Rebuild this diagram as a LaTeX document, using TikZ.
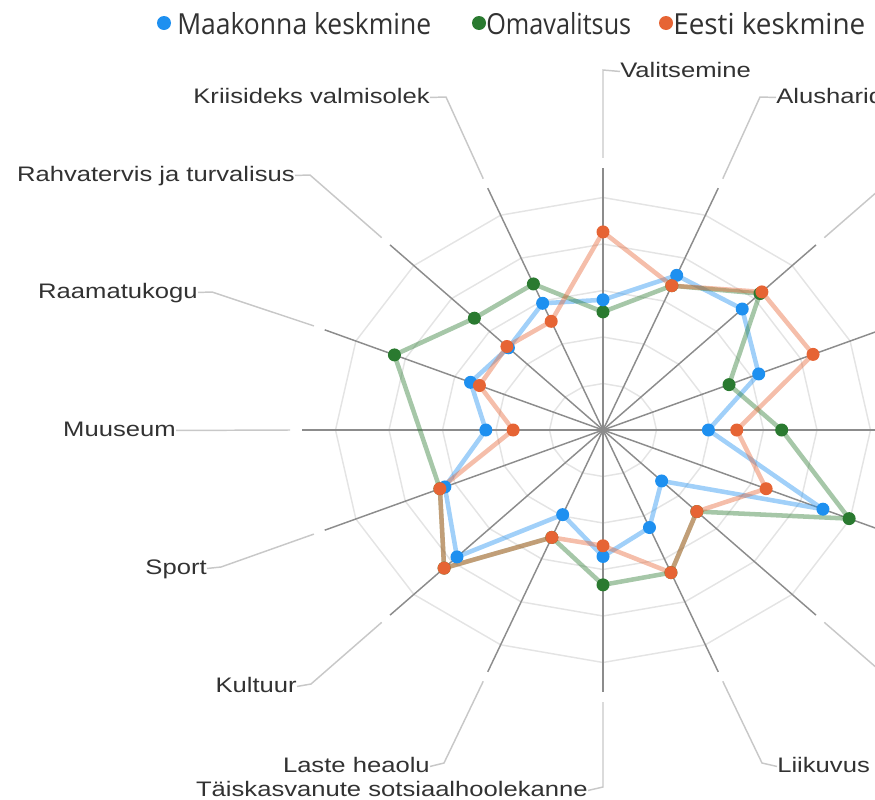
\documentclass[tikz,border=0pt]{standalone}
\usepackage{fontspec}
\usepackage{graphicx}
\setmainfont{Liberation Sans}
\newfontfamily\legendfont{Open Sans}
\definecolor{cb}{RGB}{30,144,240}
\definecolor{cg}{RGB}{42,122,48}
\definecolor{co}{RGB}{230,100,52}
\definecolor{axisgray}{RGB}{140,140,140}
\definecolor{ringgray}{RGB}{228,228,228}
\definecolor{leadgray}{RGB}{200,200,200}
\definecolor{txt}{RGB}{50,50,50}
\newcommand\lblx[1]{\scalebox{1.22}[1]{#1}}
\begin{document}
\begin{tikzpicture}[x=0.75pt,y=-0.75pt,
  ring/.style={draw=ringgray,line width=1.1pt},
  axisline/.style={draw=axisgray,line width=1.1pt},
  leader/.style={draw=leadgray,line width=1.1pt},
  lbl/.style={inner sep=0pt,font=\fontsize{15.75pt}{18pt}\selectfont,text=txt,text height=11.5pt,text depth=3.2pt},
  legtext/.style={inner sep=0pt,font=\legendfont\fontsize{21.75pt}{24pt}\selectfont,text=txt},
  legdot/.style={circle,inner sep=0pt,minimum size=10.5pt},
  dataline/.style={line width=3.4pt,draw opacity=0.42,line join=round},
  pdot/.style={circle,inner sep=0pt,minimum size=9.75pt},
]
\useasboundingbox (0,0) rectangle (875,800);
\begin{scope}
\clip (0,0) rectangle (875,800);
\begin{scope}[shift={(603,430)},x=40.125pt,y=34.875pt]
  \coordinate (C) at (0,0);
  % grid rings
  \foreach \r in {1,...,5}{
    \draw[ring] (90:\r) \foreach \k in {1,...,15}{ -- ({90-22.5*\k}:\r) } -- cycle;
  }
  % axes
  \foreach \k in {0,...,15}{
    \coordinate (ax\k) at ({90-22.5*\k}:5.63);
    \coordinate (g\k) at ({90-22.5*\k}:5.85);
    \coordinate (n\k) at ({90-22.5*\k}:7.75);
    \draw[axisline] (C) -- (ax\k);
  }
  % data
  \foreach \v [count=\i from 0] in {2.80,3.60,3.68,3.15,1.97,4.45,1.55,2.27,2.72,1.97,3.86,3.20,2.19,2.68,2.50,2.95}{
    \coordinate (b\i) at ({90-22.5*\i}:\v);}
  \foreach \v [count=\i from 0] in {2.54,3.36,4.15,2.55,3.34,4.98,2.48,3.32,3.33,2.50,4.20,3.30,1.00,4.22,3.40,3.40}{
    \coordinate (gr\i) at ({90-22.5*\i}:\v);}
  \foreach \v [count=\i from 0] in {4.26,3.36,4.20,4.25,2.50,3.30,2.48,3.32,2.49,2.50,4.20,3.30,1.68,2.50,2.54,2.53}{
    \coordinate (o\i) at ({90-22.5*\i}:\v);}
\end{scope}
% polygons
\draw[dataline,draw=cb] (b0) \foreach \i in {1,...,15}{ -- (b\i)} -- cycle;
\draw[dataline,draw=cg] (gr0) \foreach \i in {1,...,11}{ -- (gr\i)} -- (gr13) -- (gr14) -- (gr15) -- cycle;
\draw[dataline,draw=co] (o0) \foreach \i in {1,...,15}{ -- (o\i)} -- cycle;
% points
\foreach \i in {0,...,11,13,14,15}{ \node[pdot,fill=cg] (GD\i) at (gr\i) {}; }
\foreach \i in {0,...,15}{ \node[pdot,fill=cb] (BD\i) at (b\i) {}; }
\foreach \i in {0,...,15}{ \node[pdot,fill=co] (OD\i) at (o\i) {}; }
% leaders for labels outside the picture
\foreach \k in {2,...,6}{ \draw[leader] (g\k) -- (n\k); }
% labels
\node[lbl,anchor=base west] (L0) at (620,77) {\lblx{Valitsemine}};
\coordinate (m0) at (603,70);
\draw[leader] (L0.west) -- (m0) -- (g0);
\node[lbl,anchor=base west] (L1) at (776,103) {\lblx{Alusharidus}};
\coordinate (m1) at (760,97);
\draw[leader] (L1.west) -- (m1) -- (g1);
\node[lbl,anchor=base east] (L15) at (430,103) {\lblx{Kriisideks valmisolek}};
\coordinate (m15) at (446,97);
\draw[leader] (L15.east) -- (m15) -- (g15);
\node[lbl,anchor=base east] (L14) at (295,181) {\lblx{Rahvatervis ja turvalisus}};
\coordinate (m14) at (310,175);
\draw[leader] (L14.east) -- (m14) -- (g14);
\node[lbl,anchor=base east] (L13) at (198,298) {\lblx{Raamatukogu}};
\coordinate (m13) at (212,292);
\draw[leader] (L13.east) -- (m13) -- (g13);
\node[lbl,anchor=base east] (L12) at (176,436) {\lblx{Muuseum}};
\draw[leader] (L12.east) -- (g12);
\node[lbl,anchor=base east] (L11) at (207,574) {\lblx{Sport}};
\coordinate (m11) at (221,567);
\draw[leader] (L11.east) -- (m11) -- (g11);
\node[lbl,anchor=base east] (L10) at (297,692) {\lblx{Kultuur}};
\coordinate (m10) at (311,684);
\draw[leader] (L10.east) -- (m10) -- (g10);
\node[lbl,anchor=base east] (L9) at (430,772) {\lblx{Laste heaolu}};
\coordinate (m9) at (444,763);
\draw[leader] (L9.east) -- (m9) -- (g9);
\node[lbl,anchor=base east] (L8) at (588,796) {\lblx{Täiskasvanute sotsiaalhoolekanne}};
\coordinate (m8) at (603,787);
\draw[leader] (L8.east) -- (m8) -- (g8);
\node[lbl,anchor=base west] (L7) at (777,772) {\lblx{Liikuvus}};
\coordinate (m7) at (762,763);
\draw[leader] (L7.west) -- (m7) -- (g7);
% legend
\node[legdot,fill=cb] (LD1) at (164,23) {};
\node[legtext,anchor=base west] (LT1) at (177,34) {\resizebox{190.5pt}{\height}{Maakonna keskmine}};
\node[legdot,fill=cg] (LD2) at (479,23) {};
\node[legtext,anchor=base west] (LT2) at (486,34) {\resizebox{108.75pt}{\height}{Omavalitsus}};
\node[legdot,fill=co] (LD3) at (666,23) {};
\node[legtext,anchor=base west] (LT3) at (673,34) {\resizebox{144pt}{\height}{Eesti keskmine}};
\end{scope}
\end{tikzpicture}
\end{document}
